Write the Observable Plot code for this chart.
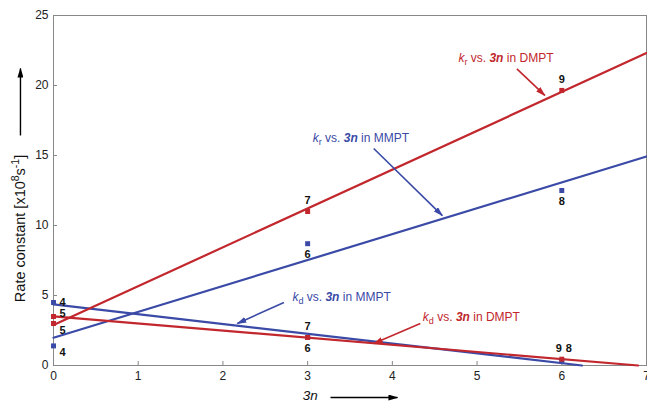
<!DOCTYPE html>
<html><head><meta charset="utf-8">
<script src="https://cdn.jsdelivr.net/npm/d3@7"></script>
<script src="https://cdn.jsdelivr.net/npm/@observablehq/plot@0.6"></script>
<style>
body{margin:0;background:#fff}
#chart svg{font-family:"Liberation Sans",Arial,Helvetica,sans-serif;overflow:visible}
</style>
</head><body><div id="chart"></div>
<script>
// ---- data ----
const xValues = [0, 3, 6];
const mmptKr = [1.4, 8.7, 12.5];
const mmptKd = [4.5, 2.0, 0.3];
const dmptKr = [3.0, 11.0, 19.65];
const dmptKd = [3.5, 2.0, 0.45];
const mmptKrLabels = ["4", "6", "8"];
const mmptKdLabels = ["4", "7", "8"];
const dmptKrLabels = ["5", "7", "9"];
const dmptKdLabels = ["5", "6", "9"];
const mmptKrPlace = ["rightBelow", "below", "below"];
const mmptKdPlace = ["right", "above", "aboveRight"];
const dmptKrPlace = ["rightBelow", "above", "above"];
const dmptKdPlace = ["rightUp", "below", "aboveLeft"];
const xTicks = [0, 1, 2, 3, 4, 5, 6, 7];
const yTicks = [0, 5, 10, 15, 20, 25];
const xDomain = [0, 7];
const yDomain = [0, 25];
const RED = "#c1272d", BLUE = "#3a4aa6";

const annotations = [
  {x: 4.78, y: 21.93, sub: "r", tail: " in DMPT", color: RED, x1: 5.47, y1: 21.19, x2: 5.80, y2: 19.29},
  {x: 3.06, y: 16.21, sub: "r", tail: " in MMPT", color: BLUE, x1: 3.78, y1: 15.5, x2: 4.59, y2: 10.71},
  {x: 2.82, y: 4.86, sub: "d", tail: " in MMPT", color: BLUE, x1: 2.72, y1: 4.5, x2: 2.17, y2: 3.0},
  {x: 4.36, y: 3.43, sub: "d", tail: " in DMPT", color: RED, x1: 4.33, y1: 3.0, x2: 3.78, y2: 1.57}
];
const axisArrows = [
  {x1: -0.39, y1: 16.43, x2: -0.39, y2: 21.21, color: "#000000"},
  {x1: 3.27, y1: -2.29, x2: 4.06, y2: -2.29, color: "#000000"}
];
const yTitle = {x: -0.39, y: 9.79};
const xTitle = {x: 3.03, y: -2.14};

// ---- derived ----
const series = [
  {name: "mmptKr", ys: mmptKr, labels: mmptKrLabels, place: mmptKrPlace, color: BLUE},
  {name: "mmptKd", ys: mmptKd, labels: mmptKdLabels, place: mmptKdPlace, color: BLUE},
  {name: "dmptKr", ys: dmptKr, labels: dmptKrLabels, place: dmptKrPlace, color: RED},
  {name: "dmptKd", ys: dmptKd, labels: dmptKdLabels, place: dmptKdPlace, color: RED}
];
function fit(ys) {
  const mx = d3.mean(xValues), my = d3.mean(ys);
  const m = d3.sum(xValues, (x, i) => (x - mx) * (ys[i] - my)) / d3.sum(xValues, x => (x - mx) ** 2);
  const b = my - m * mx;
  const xe = m < 0 ? Math.min(xDomain[1], -b / m) : xDomain[1];
  return [{x: xDomain[0], y: b + m * xDomain[0]}, {x: xe, y: b + m * xe}];
}
const fitLines = series.flatMap(s => fit(s.ys).map(p => ({...p, name: s.name, color: s.color})));
const points = series.flatMap(s => xValues.map((x, i) => ({x, y: s.ys[i], label: s.labels[i], place: s.place[i], color: s.color})));
const placeOffsets = {
  right: [9, 0], rightUp: [9, -3], rightBelow: [9, 7],
  below: [0, 11], above: [0, -11], aboveLeft: [-3, -11], aboveRight: [7, -13]
};

const W = 647, H = 402, mL = 53, mR = 1, mT = 15, mB = 37;
const frameW = W - mL - mR, frameH = H - mT - mB;

const labelMarks = Object.entries(placeOffsets).map(([k, [dx, dy]]) =>
  Plot.text(points.filter(p => p.place === k), {x: "x", y: "y", text: "label", dx, dy,
    fontWeight: "bold", fontSize: 11, fill: "#111"}));

const plot = Plot.plot({
  width: W, height: H,
  marginLeft: mL, marginRight: mR, marginTop: mT, marginBottom: mB,
  x: {domain: xDomain}, y: {domain: yDomain},
  style: {fontSize: "12px", color: "#222", background: "#fff"},
  marks: [
    Plot.frame({stroke: "#888"}),
    Plot.ruleX(xTicks, {x: d => d, insetTop: frameH - 4, stroke: "#888"}),
    Plot.ruleY(yTicks, {y: d => d, insetRight: frameW - 4, stroke: "#888"}),
    Plot.axisX({ticks: xTicks, tickFormat: d => String(d), tickSize: 0, tickPadding: 6, label: null, fontSize: 12}),
    Plot.axisY({ticks: yTicks, tickFormat: d => String(d), tickSize: 0, tickPadding: 5, label: null, fontSize: 12}),
    Plot.line(fitLines, {x: "x", y: "y", z: "name", stroke: "color", strokeWidth: 2.2}),
    Plot.dot(points.filter(p => p.color === BLUE), {x: "x", y: "y", symbol: "square", r: 2.8, fill: "color", stroke: "none"}),
    Plot.dot(points.filter(p => p.color === RED), {x: "x", y: "y", symbol: "square", r: 2.8, fill: "color", stroke: "none"}),
    ...labelMarks,
    Plot.link(annotations, {x1: "x1", y1: "y1", x2: "x2", y2: "y2", stroke: "color", strokeWidth: 1.6, ariaDescription: "arrowlinks"}),
    Plot.link(axisArrows, {x1: "x1", y1: "y1", x2: "x2", y2: "y2", stroke: "color", strokeWidth: 1.4, ariaDescription: "arrowlinks"}),
    Plot.text(annotations, {x: "x", y: "y", text: d => "k" + d.sub + " vs. 3n" + d.tail, fill: "color", textAnchor: "start", fontSize: 12, ariaDescription: "annot"}),
    Plot.text([yTitle], {x: "x", y: "y", text: () => "Rate constant [x10^8s^-1]", rotate: -90, fontSize: 14.5, fill: "#111", ariaDescription: "ytitle"}),
    Plot.text([xTitle], {x: "x", y: "y", text: () => "3n", fontSize: 13.5, fontStyle: "italic", fill: "#111", ariaDescription: "xtitle"})
  ]
});

// rich text
const svg = d3.select(plot);
svg.selectAll('g[aria-description="annot"] text').each(function(_, i) {
  const a = annotations[i];
  this.innerHTML = `<tspan font-style="italic">k</tspan><tspan dy="3" font-size="9">${a.sub}</tspan><tspan dy="-3"> vs. </tspan><tspan font-style="italic" font-weight="bold">3n</tspan><tspan>${a.tail}</tspan>`;
});
svg.selectAll('g[aria-description="ytitle"] text').each(function() {
  this.innerHTML = `Rate constant [x10<tspan dy="-6" font-size="10.5">8</tspan><tspan dy="6">s</tspan><tspan dy="-6" font-size="10.5">-1</tspan><tspan dy="6">]</tspan>`;
});
// filled arrowheads
const defs = svg.insert("defs", ":first-child");
const markerIds = {};
svg.selectAll('g[aria-description="arrowlinks"] path').each(function() {
  const c = this.getAttribute("stroke") || d3.select(this.parentNode).attr("stroke") || "#000";
  if (!markerIds[c]) {
    const id = "ah" + Object.keys(markerIds).length;
    markerIds[c] = id;
    defs.append("marker").attr("id", id).attr("viewBox", "0 0 10 6").attr("refX", 9).attr("refY", 3)
      .attr("markerWidth", 10).attr("markerHeight", 6).attr("markerUnits", "userSpaceOnUse").attr("orient", "auto")
      .append("path").attr("d", "M0,0L10,3L0,6Z").attr("fill", c);
  }
  this.setAttribute("marker-end", `url(#${markerIds[c]})`);
});
document.getElementById("chart").appendChild(plot);
</script>
</body></html>
